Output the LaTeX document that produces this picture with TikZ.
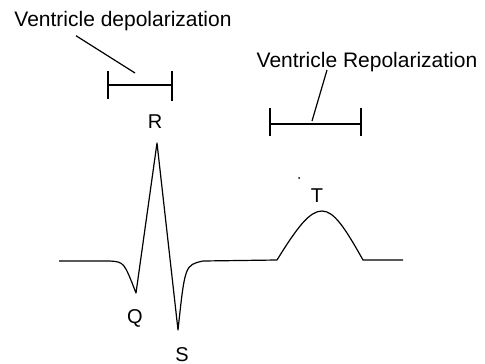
\documentclass[tikz,border=0pt]{standalone}
\usepackage{fontspec}
\setmainfont{Liberation Sans}
\usetikzlibrary{positioning}

\begin{document}
\begin{tikzpicture}[x=0.5pt,y=-0.5pt,
  wave/.style={line width=0.6pt,line join=round},
  bar/.style={line width=0.6pt},
  lbl/.style={font=\fontsize{10.5}{12}\selectfont,inner sep=0pt,anchor=base},
  wavelbl/.style={font=\fontsize{10}{12}\selectfont,inner sep=0pt,anchor=base}
]
  \useasboundingbox (0,0) rectangle (485,363);
  % labels
  \node[lbl] (dep) at (123,27) {Ventricle depolarization};
  \node[lbl] (rep) at (367,68) {Ventricle Repolarization};
  \node[wavelbl] (R) at (155,128) {R};
  \node[wavelbl] (Q) at (135,323) {Q};
  \node[wavelbl] (S) at (182,361) {S};
  \node[wavelbl] (T) at (317,202) {T};
  % brackets
  \coordinate (depL) at (108,85);
  \coordinate (depR) at (172,85);
  \coordinate (repL) at (270,124);
  \coordinate (repR) at (361,124);
  \draw[bar] (depL) -- (depR);
  \draw[bar] ([yshift=-7pt]depL) -- ([yshift=7pt]depL);
  \draw[bar] ([yshift=-8pt]depR) -- ([yshift=7pt]depR);
  \draw[bar] (repL) -- (repR);
  \draw[bar] ([yshift=-6pt]repL) -- ([yshift=8pt]repL);
  \draw[bar] ([yshift=-6pt]repR) -- ([yshift=8pt]repR);
  \coordinate (deptip) at (135,73);
  \coordinate (reptip) at (312,121);
  \draw[bar] (dep.south west) ++(62,4) -- (deptip);
  \draw[bar] (327,70) -- (reptip);
  \fill (299,178) circle (1);
  % trace
  \draw[wave] (59,261) -- (110,261) .. controls (124,262) .. (136,293)
    -- (157,143) -- (178,330) .. controls (185,265) .. (203,261)
    -- (277,260) .. controls (298,226) and (310,211) .. (322,211)
    .. controls (334,211) and (345,228) .. (363,260) -- (403,260);
\end{tikzpicture}
\end{document}
